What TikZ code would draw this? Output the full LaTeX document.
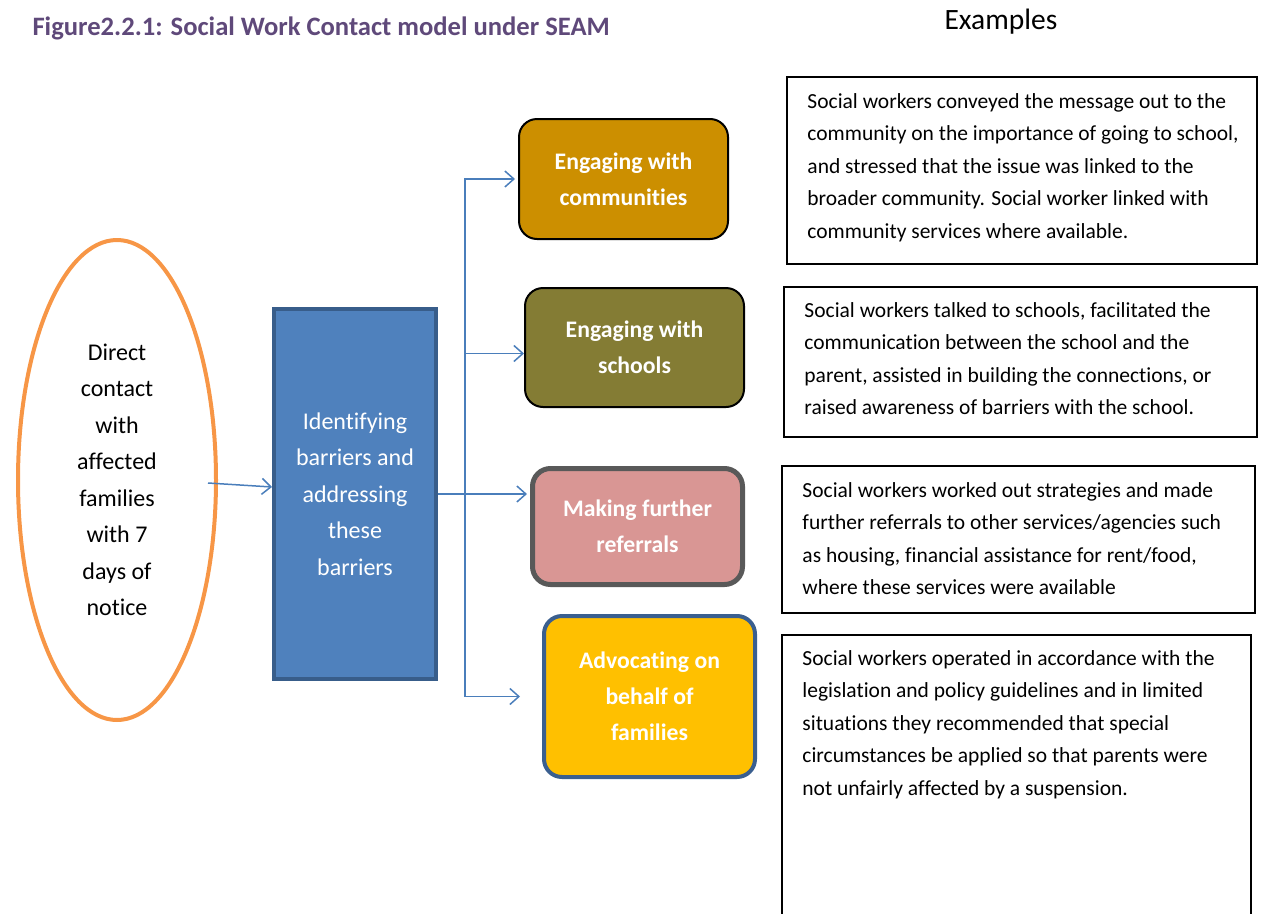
\documentclass[tikz,border=0pt]{standalone}
\usepackage{fontspec}
\setmainfont{Carlito}[Ligatures=CommonOff]
\usetikzlibrary{arrows.meta,positioning,shapes.geometric}
\definecolor{titlepurple}{HTML}{5F497A}
\definecolor{ovalorange}{HTML}{F79646}
\definecolor{barrierblue}{HTML}{4F81BD}
\definecolor{barrierborder}{HTML}{385D8A}
\definecolor{arrowblue}{HTML}{4A7EBB}
\definecolor{commfill}{HTML}{CC8F00}
\definecolor{schoolfill}{HTML}{847C34}
\definecolor{referfill}{HTML}{D99694}
\definecolor{referborder}{HTML}{595959}
\definecolor{advocfill}{HTML}{FFC000}
\definecolor{advocborder}{HTML}{3A5F8F}
\tikzset{
  contactoval/.style={
    ellipse,
    draw=ovalorange,
    line width=4pt,
    minimum width=198pt,
    minimum height=480pt,
    inner sep=0pt,
    align=center,
    font=\fontsize{24}{36.5}\selectfont
  },
  barrierbox/.style={
    rectangle,
    draw=barrierborder,
    fill=barrierblue,
    line width=4pt,
    minimum width=162pt,
    minimum height=370pt,
    align=center,
    text=white,
    font=\fontsize{24}{36.5}\selectfont
  },
  actionbox/.style={
    rectangle,
    rounded corners=18pt,
    align=center,
    text=white,
    inner sep=0pt,
    text depth=0pt,
    font=\bfseries\fontsize{23.7}{36}\selectfont
  },
  examplebox/.style={
    rectangle,
    draw=black,
    line width=1.5pt,
    inner sep=0pt
  },
  exampletext/.style={
    align=left,
    inner sep=0pt,
    anchor=north west,
    font=\fontsize{21.5}{32.5}\selectfont
  },
  branchline/.style={-{Straight Barb[length=9pt,width=16pt]},draw=arrowblue,line width=1.5pt}
}

\begin{document}
\begin{tikzpicture}[x=1pt,y=-1pt]
  \useasboundingbox (0,0) rectangle (1261,913);
  % headings
  \node[anchor=west, text=titlepurple, font=\bfseries\fontsize{26.6}{30}\selectfont] (title) at (29,28)
    {Figure2.2.1: Social Work Contact model under SEAM};
  \node[font=\fontsize{29.5}{34}\selectfont] (exhead) at (1001,22) {Examples};

  % left part of the model
  \node[contactoval] (contact) at (117,480)
    {Direct\\contact\\with\\affected\\families\\with 7\\days of\\notice};
  \node[barrierbox] (barrier) at (355,494)
    {Identifying\\barriers and\\addressing\\these\\barriers};

  % the four kinds of action
  \node[actionbox, fill=commfill, draw=black, line width=2pt,
        minimum width=209pt, minimum height=120pt] (comm) at (623.5,179)
    {Engaging with\\communities};
  \node[actionbox, fill=schoolfill, draw=black, line width=2pt,
        minimum width=219pt, minimum height=119pt] (school) at (634.5,347.5)
    {Engaging with\\schools};
  \node[actionbox, fill=referfill, draw=referborder, line width=5pt,
        minimum width=210pt, minimum height=116pt] (refer) at (637.5,526.5)
    {Making further\\referrals};
  \node[actionbox, fill=advocfill, draw=advocborder, line width=4pt,
        minimum width=211pt, minimum height=161pt] (advoc) at (649.5,696.5)
    {Advocating on\\behalf of\\families};

  % example boxes
  \node[examplebox, minimum width=470pt, minimum height=187pt] (ex1) at (1022,170.5) {};
  \node[examplebox, minimum width=473pt, minimum height=150pt] (ex2) at (1020.5,362) {};
  \node[examplebox, minimum width=473pt, minimum height=147pt] (ex3) at (1018.5,539.5) {};
  \node[examplebox, minimum width=469pt, minimum height=285pt] (ex4) at (1016.5,777.5) {};

  \node[exampletext, below right=17pt and 21pt of ex1.north west] (ex1text)
    {Social workers conveyed the message out to the\\
     community on the importance of going to school,\\
     and stressed that the issue was linked to the\\
     broader community. Social worker linked with\\
     community services where available.};
  \node[exampletext, below right=16pt and 21pt of ex2.north west] (ex2text)
    {Social workers talked to schools, facilitated the\\
     communication between the school and the\\
     parent, assisted in building the connections, or\\
     raised awareness of barriers with the school.};
  \node[exampletext, below right=17pt and 21pt of ex3.north west] (ex3text)
    {Social workers worked out strategies and made\\
     further referrals to other services/agencies such\\
     as housing, financial assistance for rent/food,\\
     where these services were available};
  \node[exampletext, below right=16pt and 21pt of ex4.north west] (ex4text)
    {Social workers operated in accordance with the\\
     legislation and policy guidelines and in limited\\
     situations they recommended that special\\
     circumstances be applied so that parents were\\
     not unfairly affected by a suspension.};

  % connectors
  \coordinate (split) at (465,494);
  \draw[branchline] ([xshift=-10pt,yshift=-3pt]contact.east) -- ([yshift=7pt]barrier.west);
  \draw[branchline, shorten >=3pt] (barrier.east) -- (barrier.east -| refer.west);
  \draw[branchline, shorten >=3pt] (split) |- (comm.west);
  \draw[branchline] (split) |- ([yshift=-6pt]school.west);
  \draw[branchline, shorten >=22pt] (split) |- (advoc.west);
\end{tikzpicture}
\end{document}
